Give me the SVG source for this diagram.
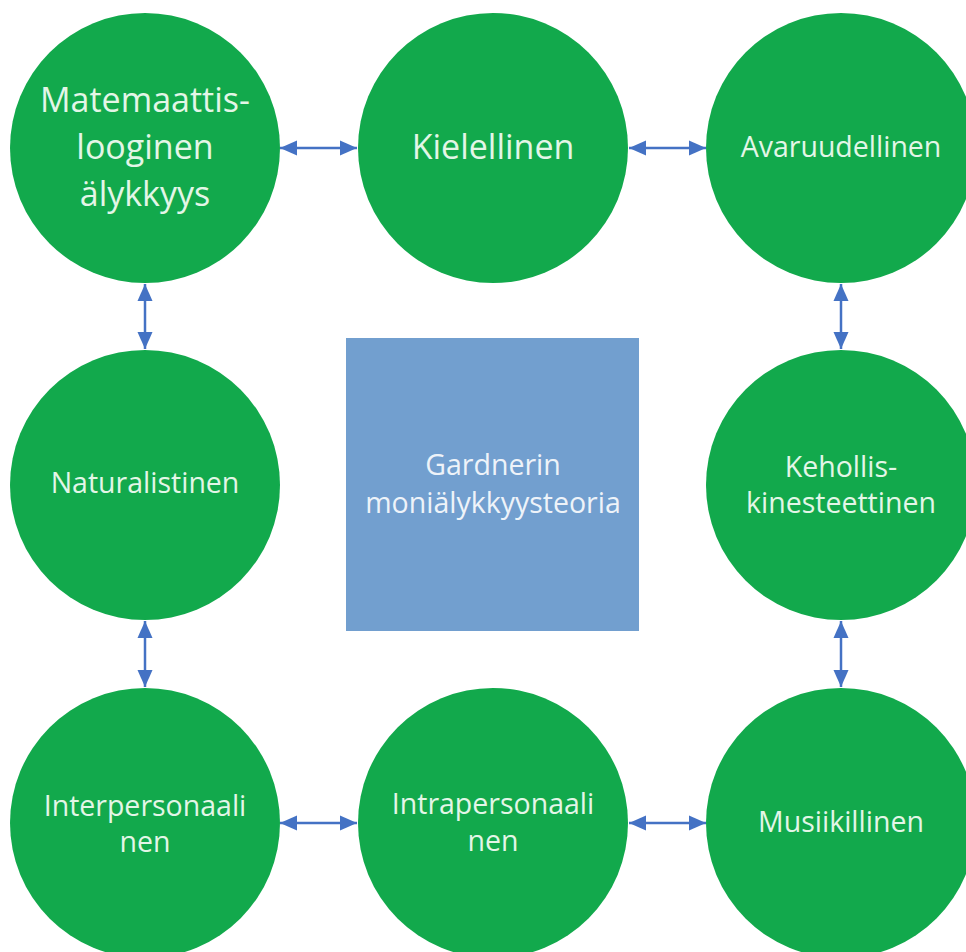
<svg xmlns="http://www.w3.org/2000/svg" width="966" height="952" viewBox="0 0 966 952">
  <defs>
    <marker id="head" markerUnits="userSpaceOnUse" markerWidth="18" markerHeight="18" viewBox="0 0 18 18" refX="17" refY="9" orient="auto-start-reverse">
      <path d="M0,1.5 L17,9 L0,16.5 z" fill="#4472c4"/>
    </marker>
    <style>
      .ball { fill: #12a94c; }
      .lbl { font-family: "Open Sans", "Liberation Sans", sans-serif; fill: #e3f6e7; text-anchor: middle; font-size: 28.5px; }
      .big { font-size: 34px; }
      .hub { fill: #729fcf; }
      .hubtxt { font-family: "Open Sans", "Liberation Sans", sans-serif; fill: #eef3f9; text-anchor: middle; font-size: 28.5px; }
      .link { stroke: #4472c4; stroke-width: 2.5; fill: none; marker-start: url(#head); marker-end: url(#head); }
    </style>
  </defs>
  <rect width="966" height="952" fill="#ffffff"/>

  <g id="connectors">
    <line class="link" x1="280" y1="148" x2="357" y2="148"/>
    <line class="link" x1="629" y1="148" x2="706" y2="148"/>
    <line class="link" x1="145" y1="284" x2="145" y2="349"/>
    <line class="link" x1="145" y1="621" x2="145" y2="687"/>
    <line class="link" x1="841" y1="284" x2="841" y2="349"/>
    <line class="link" x1="841" y1="621" x2="841" y2="687"/>
    <line class="link" x1="280" y1="823" x2="357" y2="823"/>
    <line class="link" x1="629" y1="823" x2="706" y2="823"/>
  </g>

  <g id="center">
    <rect class="hub" x="346" y="338" width="293" height="293"/>
    <text class="hubtxt" x="493" y="475">Gardnerin</text>
    <text class="hubtxt" x="493" y="513">moniälykkyysteoria</text>
  </g>

  <g id="matemaattis">
    <circle class="ball" cx="145" cy="148" r="135"/>
    <text class="lbl big" x="145" y="112">Matemaattis-</text>
    <text class="lbl big" x="145" y="159">looginen</text>
    <text class="lbl big" x="145" y="206">älykkyys</text>
  </g>

  <g id="kielellinen">
    <circle class="ball" cx="493" cy="148" r="135"/>
    <text class="lbl big" x="493" y="159">Kielellinen</text>
  </g>

  <g id="avaruudellinen">
    <circle class="ball" cx="841" cy="148" r="135"/>
    <text class="lbl" x="841" y="157">Avaruudellinen</text>
  </g>

  <g id="naturalistinen">
    <circle class="ball" cx="145" cy="485" r="135"/>
    <text class="lbl" x="145" y="493">Naturalistinen</text>
  </g>

  <g id="kehollis">
    <circle class="ball" cx="841" cy="485" r="135"/>
    <text class="lbl" x="841" y="477">Kehollis-</text>
    <text class="lbl" x="841" y="513">kinesteettinen</text>
  </g>

  <g id="interpersonaali">
    <circle class="ball" cx="145" cy="823" r="135"/>
    <text class="lbl" x="145" y="816">Interpersonaali</text>
    <text class="lbl" x="145" y="852">nen</text>
  </g>

  <g id="intrapersonaali">
    <circle class="ball" cx="493" cy="823" r="135"/>
    <text class="lbl" x="493" y="814">Intrapersonaali</text>
    <text class="lbl" x="493" y="851">nen</text>
  </g>

  <g id="musiikillinen">
    <circle class="ball" cx="841" cy="823" r="135"/>
    <text class="lbl" x="841" y="832">Musiikillinen</text>
  </g>
</svg>
